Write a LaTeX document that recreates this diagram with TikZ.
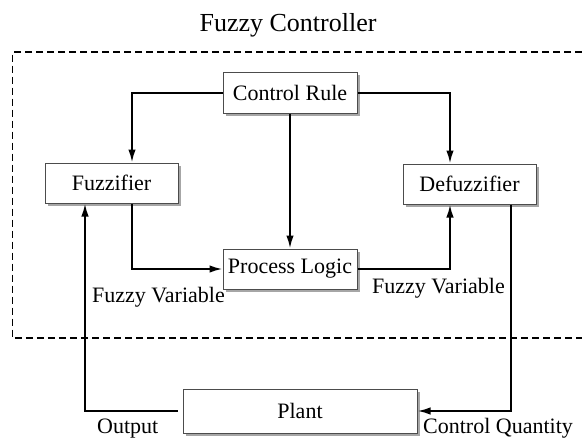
\documentclass[tikz,border=0pt]{standalone}
\usepackage{fontspec}
\setmainfont{Liberation Serif}
\usetikzlibrary{arrows.meta,shadows}
\begin{document}
\begin{tikzpicture}[x=1pt,y=-1pt,
        block/.style={draw=gray!60!black, line width=1pt, fill=white,
            drop shadow={shadow xshift=2.5pt, shadow yshift=-2.5pt, fill=gray!70, opacity=1},
            inner sep=0pt, font=\fontsize{22}{26}\selectfont},
        lbl/.style={anchor=base west, inner sep=0pt, font=\fontsize{22}{26}\selectfont},
        link/.style={line width=2pt, -{Latex[length=13pt,width=7.5pt]}}]
        % Fix the page size
        \useasboundingbox (0,0) rectangle (582,440);

        % Title and dashed frame of the controller
        \node[anchor=base, font=\fontsize{26}{30}\selectfont] (title) at (288,31) {Fuzzy Controller};
        \draw[line width=1.5pt, dash pattern=on 7pt off 4pt] (582,52) -- (12.5,52) -- (12.5,338) -- (582,338);

        % Blocks
        \node[block, minimum width=134pt, minimum height=41pt] (rule) at (290,92.5) {Control Rule};
        \node[block, minimum width=133pt, minimum height=40pt] (fuzz) at (111.5,183) {Fuzzifier};
        \node[block, minimum width=133pt, minimum height=40pt] (defuzz) at (469.5,184) {Defuzzifier};
        \node[block, minimum width=134pt, minimum height=40pt] (logic) at (290,269) {Process Logic};
        \node[block, minimum width=234pt, minimum height=44pt] (plant) at (300,411) {Plant};

        % Connectors inside the controller
        \draw[link] (rule.west) -| ([xshift=20.5pt]fuzz.north);
        \draw[link] (rule.east) -| ([xshift=-19.5pt]defuzz.north);
        \draw[link] (rule.south) -- (logic.north);
        \draw[link] ([xshift=20.5pt]fuzz.south) |- (logic.west);
        \draw[link] (logic.east) -| ([xshift=-19.5pt]defuzz.south);

        % Loop through the plant
        \draw[link] ([xshift=41.5pt]defuzz.south) |- (plant.east);
        \draw[link] ([xshift=-5pt]plant.west) -| ([xshift=-26.5pt]fuzz.south);

        % Labels
        \node[lbl] (fvleft) at (92,302) {Fuzzy Variable};
        \node[lbl] (fvright) at (372,293) {Fuzzy Variable};
        \node[lbl] (output) at (97,433) {Output};
        \node[lbl] (quantity) at (423,433) {Control Quantity};
\end{tikzpicture}
\end{document}
